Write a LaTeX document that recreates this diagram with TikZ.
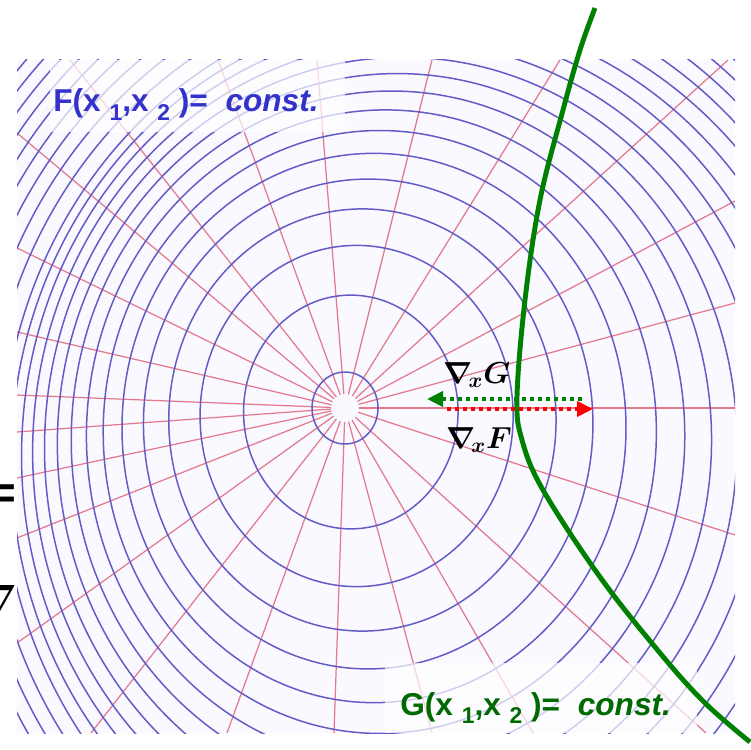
\documentclass[tikz,border=0pt]{standalone}
\usepackage{amsmath}
\usepackage{bm}
\usepackage{fontspec}
\setmainfont{Liberation Sans}
\usetikzlibrary{arrows.meta,calc}
\definecolor{levelblue}{RGB}{100,92,198}
\definecolor{raypink}{RGB}{228,120,140}
\definecolor{fblue}{RGB}{51,51,204}
\definecolor{gdark}{RGB}{0,105,0}
\definecolor{gline}{RGB}{0,128,0}
\definecolor{gridbg}{RGB}{249,249,255}
\newcommand{\lowsub}[1]{\raisebox{-0.5ex}{\fontsize{13}{13}\selectfont #1}}

\begin{document}
\begin{tikzpicture}[x=0.02cm,y=-0.02cm,>=stealth,
  levelline/.style={draw=levelblue,line width=0.85pt},
  rayline/.style={draw=raypink,line width=0.7pt},
  fadebox/.style={fill=white,opacity=0.7},
  gradarrow/.style={line width=2.2pt,dash pattern=on 0.08cm off 0.08cm,-{Triangle[length=0.32cm,width=0.3cm]}},
  nablalabel/.style={font=\fontsize{18}{20}\selectfont,inner sep=0pt},
  eqlabel/.style={font=\fontsize{18}{20}\selectfont\bfseries,anchor=base west,inner sep=0pt}]
  \useasboundingbox (0,0) rectangle (751,750);
  \coordinate (ctr) at (345,408);

  \begin{scope}
    \clip (17,60) rectangle (735,733);
    \fill[gridbg] (17,60) rectangle (735,733);
    \foreach \ex/\ey in {735/408,735/303,735/201,728/60,560/60,432/60,317/60,218/60,
      70/60,17/133,17/248,17/332,17/395,17/432,17/478,17/538,17/643,
      91/733,227/733,334/733,432/733,533/733,706/733,735/535}
      \draw[rayline] ($(ctr)!0.28cm!(\ex,\ey)$) -- (\ex,\ey);
    \draw[levelline] (ctr) ellipse [x radius=33, y radius=36];
    \foreach \k in {1,...,30}{
      \pgfmathsetmacro{\rx}{31.623*sqrt(13*\k-1.5)}
      \pgfmathsetmacro{\ry}{1.09*\rx}
      \pgfmathsetmacro{\sk}{min(\k,14)}
      \draw[levelline] (345+5.8*\sk,408+4*\sk) ellipse [x radius=\rx, y radius=\ry];
    }
    \fill[fadebox] (50,60) rectangle (345,132);
    \fill[fadebox] (385,663) rectangle (697,733);
  \end{scope}

  \node[eqlabel,text=fblue] (flabel) at (53,112) {F(x \lowsub{1},x \lowsub{2} )=~~\textit{const.}};
  \node[eqlabel,text=gdark] (glabel) at (400,715) {G(x \lowsub{1},x \lowsub{2} )=~~\textit{const.}};

  \draw[gline,line width=2.8pt] plot[smooth,tension=0.6] coordinates {(595,8) (580,50) (563,110) (540,200)
    (525,300) (517,397) (522,440) (543,490) (600,577) (660,653) (705,703) (750,742)};

  \coordinate (gtail) at (582,399);
  \coordinate (ghead) at (427,399);
  \coordinate (ftail) at (447,409);
  \coordinate (fhead) at (593,409);
  \draw[gradarrow,gline] (gtail) -- (ghead);
  \draw[gradarrow,red] (ftail) -- (fhead);
  \node[nablalabel] (gradg) at (477,375) {$\bm{\nabla_{\!x}G}$};
  \node[nablalabel] (gradf) at (479,440) {$\bm{\nabla_{\!x}F}$};

  \node[anchor=east,inner sep=0pt,font=\fontsize{26}{26}\selectfont\bfseries] (eqfrag) at (17,497) {=};
  \node[anchor=east,inner sep=0pt,font=\fontsize{31}{31}\selectfont] (nablafrag) at (18,601) {$\bm{\nabla}$};
\end{tikzpicture}
\end{document}
